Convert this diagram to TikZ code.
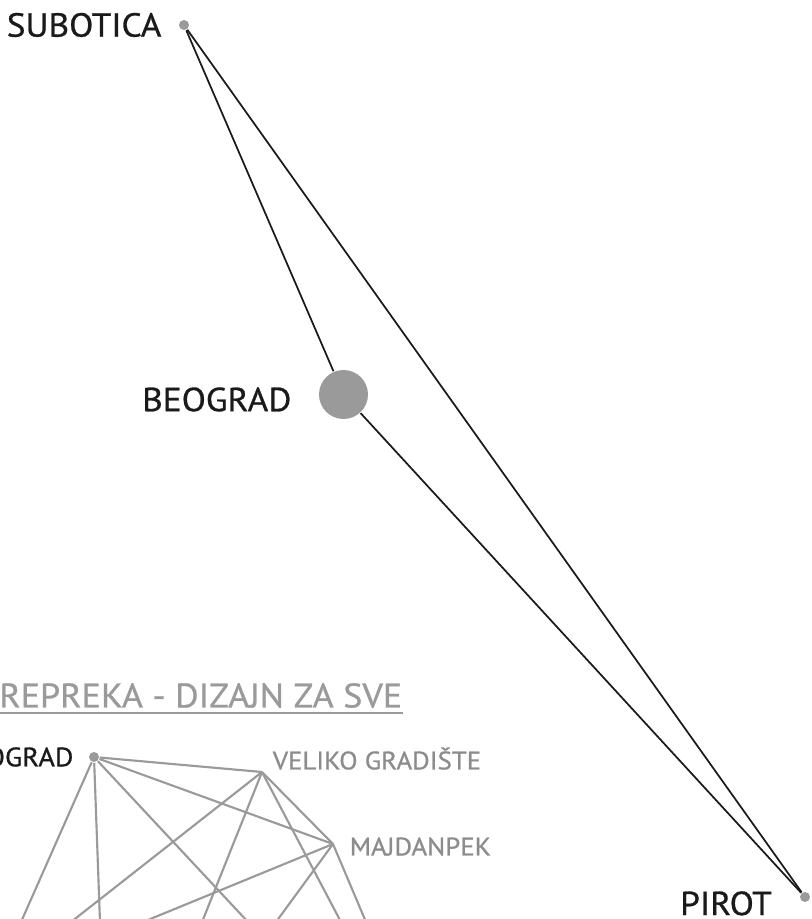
\documentclass[tikz,border=0pt]{standalone}
\usepackage{fontspec}
\setmainfont{PT Sans}
\setsansfont{PT Sans}[FakeStretch=1.06, BoldFont={PT Sans}, BoldFeatures={FakeBold=0.8}]
\usetikzlibrary{positioning}
\definecolor{cdark}{HTML}{1A1A1A}
\definecolor{cgrey}{HTML}{9A9A9A}
\definecolor{ctext}{HTML}{8C8C8C}
\tikzset{
  every picture/.style={font=\sffamily, line width=1.2pt},
  dot/.style={circle, fill=cgrey, inner sep=0pt, minimum size=#1},
  dot/.default=7.5pt,
  city/.style={font=\sffamily\bfseries\fontsize{25}{27}\selectfont, text=cdark, inner sep=0pt, text height=17.5pt, text depth=0pt},
  place/.style={font=\sffamily\bfseries\fontsize{20}{22}\selectfont, text=cdark, inner sep=0pt, text height=14pt, text depth=0pt},
  town/.style={font=\sffamily\bfseries\fontsize{19}{21}\selectfont, text=ctext, inner sep=0pt, text height=13.3pt, text depth=0pt},
  heading/.style={font=\sffamily\bfseries\fontsize{25.5}{27}\selectfont, text=cgrey, inner sep=0pt, text height=17.85pt, text depth=0pt},
  road/.style={draw=cdark, line width=1.3pt},
  link/.style={draw=cgrey, line width=1.6pt},
}

\begin{document}
\begin{tikzpicture}[x=0.75pt, y=-0.75pt]
  \useasboundingbox (0,0) rectangle (811,919);
  \clip (0,0) rectangle (811,919);
  \node[dot] (sub) at (184,25) {};
  \node[dot=36.75pt] (bg) at (343.5,394.5) {};
  \node[dot] (pir) at (805,897) {};
  \draw[road] (sub) -- (bg);
  \draw[road] (bg) -- (pir);
  \draw[road] (sub) -- (pir);
  \node[city, left=12pt of sub] (subl) {SUBOTICA};
  \node[city, left=19.5pt of bg, yshift=-3.75pt] (bgl) {BEOGRAD};
  \node[city, left=20pt of pir, yshift=-4.8pt] (pirl) {PIROT};
  \node[heading, anchor=east] (ttl) at (403,695.5) {REPREKA - DIZAJN ZA SVE};
  \draw[cgrey, line width=1.5pt] ([yshift=-3.75pt]ttl.south east) -- ([yshift=-3.75pt]ttl.south west);
  \node[dot] (bgs) at (94,757) {};
  \coordinate (vg) at (262,772);
  \coordinate (mp) at (333,844);
  \coordinate (b1) at (21,922); \coordinate (b2) at (100,922); \coordinate (b3) at (248,922);
  \coordinate (v1) at (71,922); \coordinate (v2) at (202,922); \coordinate (v3) at (341,922);
  \coordinate (m1) at (143,922); \coordinate (m2) at (276,922); \coordinate (m3) at (366,922);
  \draw[link] (bgs) -- (vg);
  \draw[link] (bgs) -- (mp);
  \draw[link] (vg) -- (mp);
  \foreach \e in {b1,b2,b3} \draw[link] (bgs) -- (\e);
  \foreach \e in {v1,v2,v3} \draw[link] (vg) -- (\e);
  \foreach \e in {m1,m2,m3} \draw[link] (mp) -- (\e);
  \node[place, left=10.5pt of bgs] (bgsl) {OGRAD};
  \node[town, right=7.5pt of vg, yshift=8.6pt] (vgl) {VELIKO GRADIŠTE};
  \node[town, right=12pt of mp, yshift=-1.9pt] (mpl) {MAJDANPEK};
\end{tikzpicture}
\end{document}
